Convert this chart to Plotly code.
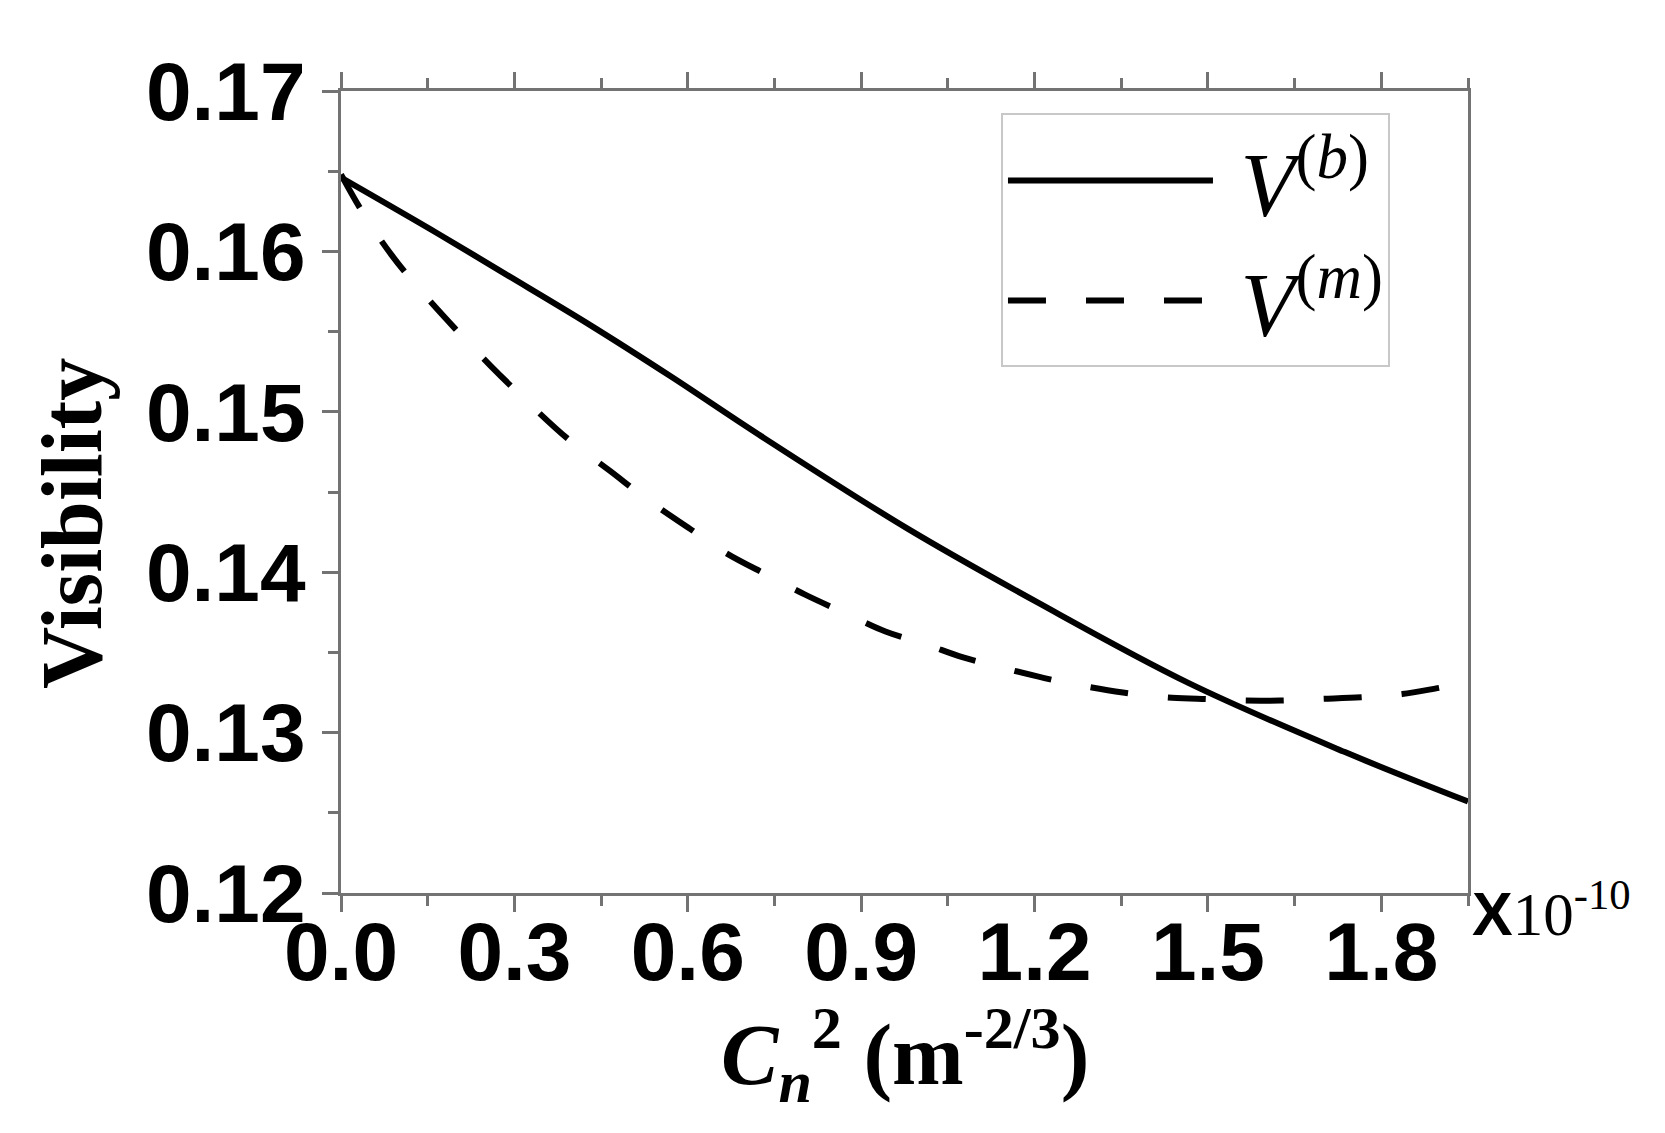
import plotly.graph_objects as go

# values (x in units of 1e-10 m^-2/3)
cn2_b = [0.0, 0.168, 0.284, 0.427, 0.571, 0.722, 0.981, 1.206, 1.466, 1.736, 1.95]
vis_b = [0.1646, 0.1611, 0.1586, 0.1555, 0.1522, 0.1486, 0.1427, 0.1381, 0.1331, 0.1288, 0.1257]

cn2_m = [0.0, 0.038, 0.087, 0.137, 0.197, 0.258, 0.329, 0.393, 0.466, 0.531, 0.604, 0.666,
         0.739, 0.803, 0.875, 0.942, 1.012, 1.075, 1.149, 1.217, 1.286, 1.353, 1.424, 1.49,
         1.558, 1.625, 1.694, 1.765, 1.836, 1.902, 1.95]
vis_m = [0.1648, 0.1624, 0.1598, 0.1576, 0.1552, 0.1529, 0.1504, 0.1483, 0.1463, 0.1445, 0.1427, 0.1412,
         0.1398, 0.1386, 0.1374, 0.1363, 0.1355, 0.1347, 0.1340, 0.1334, 0.1329, 0.1325, 0.1322, 0.1321,
         0.1320, 0.1320, 0.1321, 0.1322, 0.1324, 0.1328, 0.1331]

x_ticks = [0.0, 0.3, 0.6, 0.9, 1.2, 1.5, 1.8]
y_ticks = [0.12, 0.13, 0.14, 0.15, 0.16, 0.17]

SERIF = 'Liberation Serif'
SANS = 'Liberation Sans'
AXIS_COL = '#737373'

fig = go.Figure()
fig.add_trace(go.Scatter(x=cn2_b, y=vis_b, mode='lines', name='\u00a0<i>V</i><sup>(<i>b</i>)</sup>',
                         line=dict(color='black', width=6, shape='spline')))
fig.add_trace(go.Scatter(x=cn2_m, y=vis_m, mode='lines', name='\u00a0<i>V</i><sup>(<i>m</i>)</sup>',
                         line=dict(color='black', width=6, dash='38px,40px', shape='spline')))

fig.update_xaxes(range=[0, 1.95], tickvals=x_ticks, tickformat='.1f',
                 showline=True, linecolor=AXIS_COL, linewidth=3, mirror='ticks',
                 ticks='outside', ticklen=16, tickwidth=3, tickcolor=AXIS_COL,
                 minor=dict(dtick=0.15, ticks='outside', ticklen=10, tickwidth=3, tickcolor=AXIS_COL),
                 showgrid=False, zeroline=False, ticklabelstandoff=-30,
                 tickfont=dict(family=SANS, size=82, color='black', weight='bold'))
fig.update_yaxes(range=[0.12, 0.17], tickvals=y_ticks, tickformat='.2f',
                 showline=True, linecolor=AXIS_COL, linewidth=3, mirror=True,
                 ticks='outside', ticklen=16, tickwidth=3, tickcolor=AXIS_COL,
                 minor=dict(dtick=0.005, ticks='outside', ticklen=10, tickwidth=3, tickcolor=AXIS_COL),
                 showgrid=False, zeroline=False,
                 tickfont=dict(family=SANS, size=82, color='black', weight='bold'))

fig.add_annotation(text='<b>Visibility</b>', xref='paper', yref='paper', x=0, y=0.46,
                   xanchor='center', yanchor='middle', xshift=-269, textangle=-90, showarrow=False,
                   font=dict(family=SERIF, size=86, color='black'))
fig.add_annotation(text='<b><i>C</i><sub><i>n</i></sub><sup>2</sup> (m<sup>-2/3</sup>)</b>',
                   xref='paper', yref='paper', x=0.5, y=0, yanchor='top', yshift=-99,
                   showarrow=False, font=dict(family=SERIF, size=86, color='black'))
fig.add_annotation(text='<span style="font-family:Liberation Sans"><b>X</b></span>10<sup>-10</sup>',
                   xref='paper', yref='paper', x=1, y=0, xanchor='left', yanchor='middle',
                   xshift=2, yshift=-16, showarrow=False,
                   font=dict(family=SERIF, size=61, color='black'))

fig.update_layout(
    width=1665, height=1133,
    margin=dict(l=333, r=205, t=83, b=248),
    paper_bgcolor='white', plot_bgcolor='white',
    legend=dict(x=0.5856, y=0.972, xanchor='left', yanchor='top',
                bordercolor='#c8c8c8', borderwidth=2, bgcolor='white',
                itemwidth=205, font=dict(family=SERIF, size=90, color='black')),
)

fig.write_html('out.html')
